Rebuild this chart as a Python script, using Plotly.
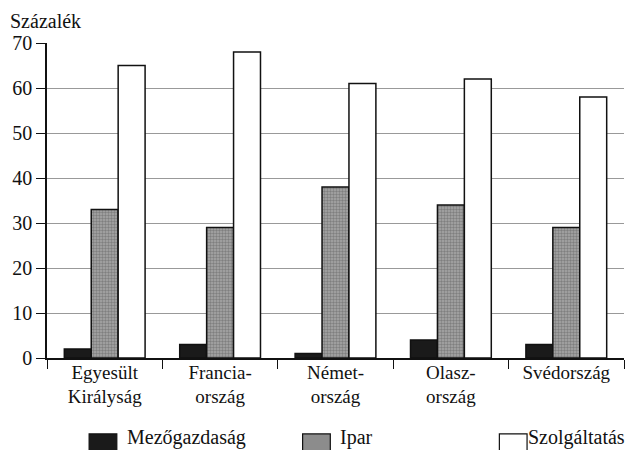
import plotly.graph_objects as go

categories = ["Egyesült<br>Királyság", "Francia-<br>ország", "Német-<br>ország", "Olasz-<br>ország", "Svédország"]
series_names = ["Mezőgazdaság", "Ipar", "Szolgáltatás"]
mezogazdasag = [2, 3, 1, 4, 3]
ipar = [33, 29, 38, 34, 29]
szolgaltatas = [65, 68, 61, 62, 58]
y_ticks = [0, 10, 20, 30, 40, 50, 60, 70]
y_title = "Százalék"

FONT = "Liberation Serif"
TXT = dict(family=FONT, size=20, color="#111")
fig = go.Figure()
fig.add_trace(go.Bar(x=categories, y=mezogazdasag, name=series_names[0],
                     marker=dict(color="#1a1a1a", line=dict(color="#111", width=1.5))))
fig.add_trace(go.Bar(x=categories, y=ipar, name=series_names[1],
                     marker=dict(color="#8c8c8c", line=dict(color="#111", width=1.5),
                                 pattern=dict(shape=".", fgcolor="#555555", bgcolor="#a8a8a8",
                                              size=3, solidity=0.5))))
fig.add_trace(go.Bar(x=categories, y=szolgaltatas, name=series_names[2],
                     marker=dict(color="white", line=dict(color="#111", width=1.5))))

# page has an 8px body margin: figure spans window px 8..633 / 8..450
fig.update_layout(
    width=625, height=442,
    margin=dict(l=39, r=9, t=35, b=92),
    barmode="group", bargap=0.3, bargroupgap=0,
    plot_bgcolor="white", paper_bgcolor="white",
    showlegend=False,
    font=TXT,
)
fig.update_xaxes(
    range=[-0.5, 4.5], tickson="boundaries", ticks="outside", ticklen=9,
    tickcolor="#111", tickwidth=1.2, showline=True, linecolor="#111", linewidth=1.5,
    tickfont=dict(family=FONT, size=19, color="#111"), ticklabelstandoff=-4,
    showgrid=False, automargin=False,
)
fig.update_yaxes(
    range=[0, 70], tickvals=y_ticks, ticks="outside", ticklen=9, tickcolor="#111",
    tickwidth=1.2, showline=True, linecolor="#111", linewidth=1.5,
    showgrid=True, gridcolor="#999999", gridwidth=1, zeroline=False,
    tickfont=TXT, automargin=False,
)

fig.add_annotation(text=y_title, xref="paper", yref="paper", x=-0.067, y=1.11,
                   xanchor="left", yanchor="top", showarrow=False, font=TXT)

# custom legend
leg = [
    (series_names[0], "#1a1a1a", 0.073, 0.135),
    (series_names[1], "#8c8c8c", 0.443, 0.505),
    (series_names[2], "white", 0.784, 0.830),
]
for name, col, x0, xt in leg:
    fig.add_shape(type="rect", xref="paper", yref="paper", x0=x0, x1=x0 + 0.048,
                  y0=-0.345, y1=-0.241, fillcolor=col, line=dict(color="#111", width=1.2))
    fig.add_annotation(text=name, xref="paper", yref="paper", x=xt, y=-0.208,
                       xanchor="left", yanchor="top", showarrow=False, font=TXT)

fig.write_html("out.html")
